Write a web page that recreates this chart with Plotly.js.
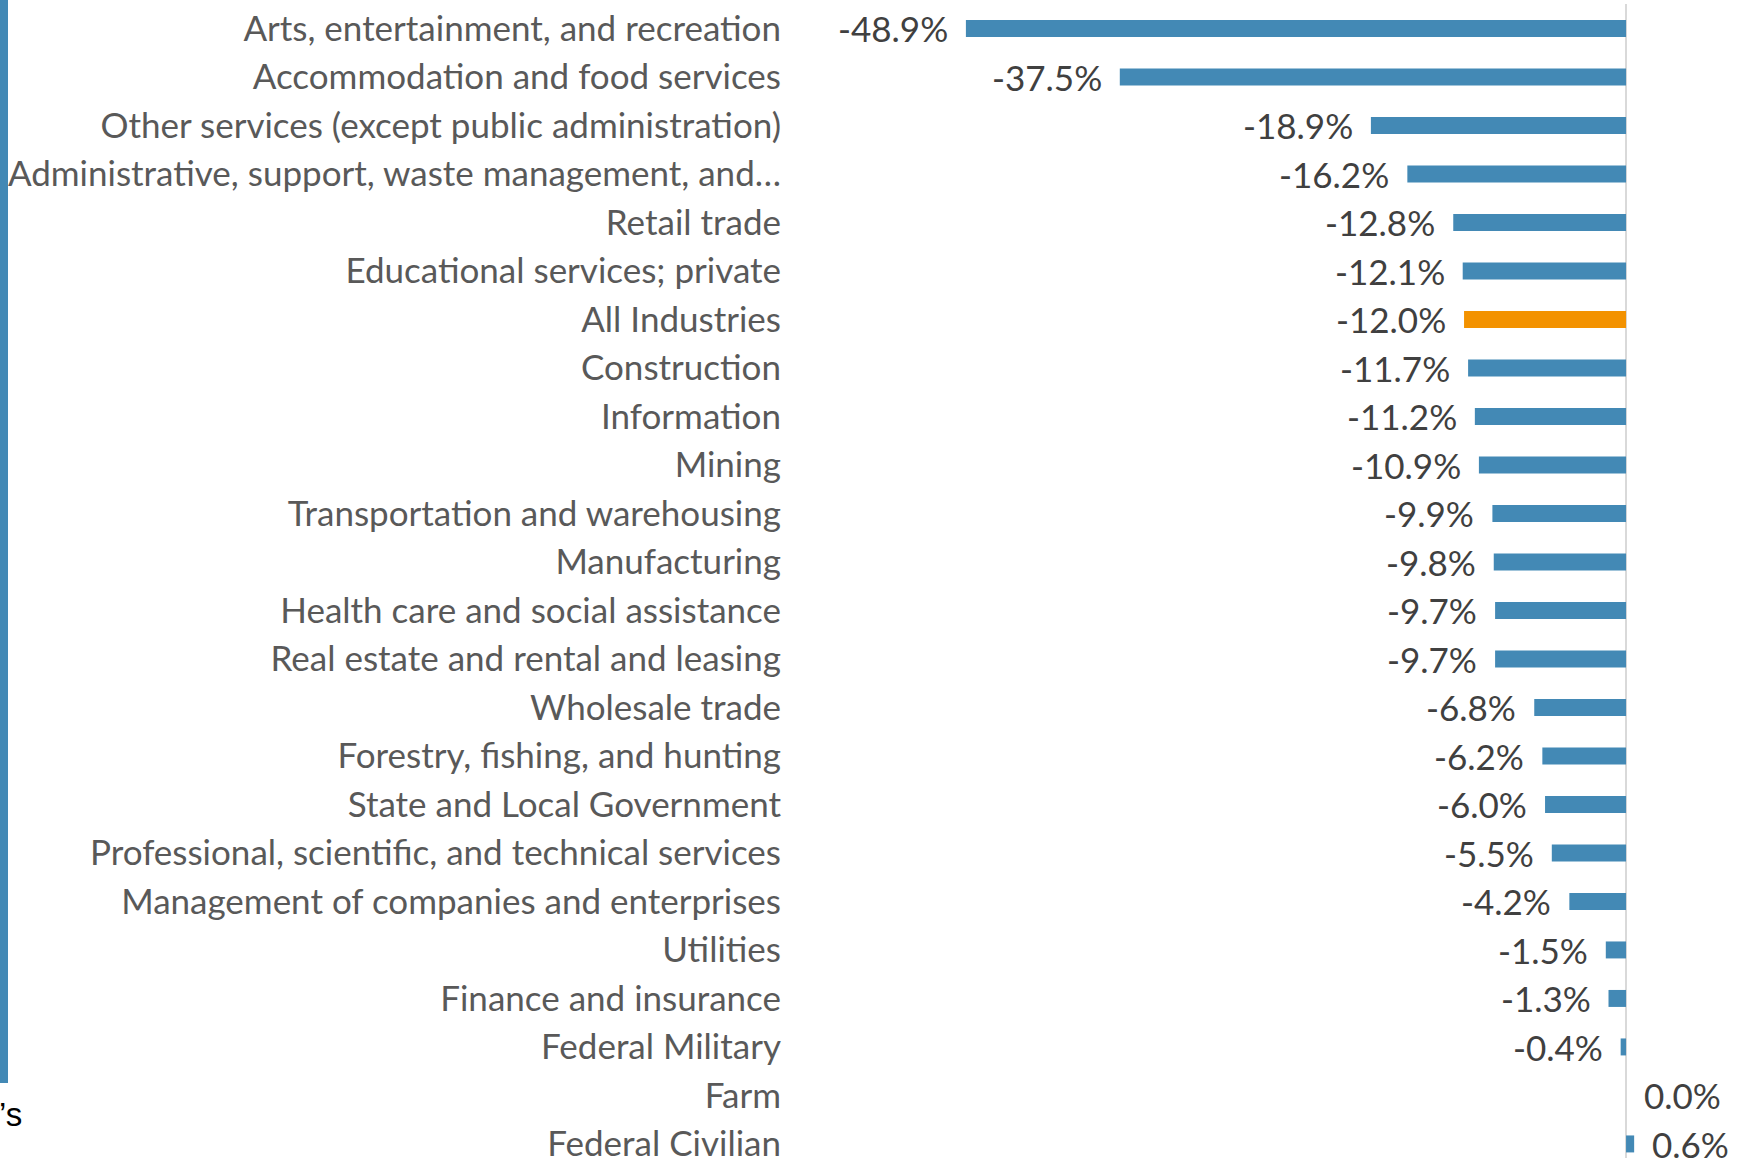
<!DOCTYPE html>
<html>
<head>
<meta charset="utf-8">
<script src="https://cdn.plot.ly/plotly-3.0.1.min.js"></script>
<style>
  html, body { margin: 0; padding: 0; overflow: hidden; background: #fff; }
  #chart { width: 1757px; height: 1158px; }
</style>
</head>
<body>
<div id="chart"></div>
<script>
// ---- Data (top to bottom) ----
const categories = [
  "Arts, entertainment, and recreation",
  "Accommodation and food services",
  "Other services (except public administration)",
  "Administrative, support, waste management, and\u2026",
  "Retail trade",
  "Educational services; private",
  "All Industries",
  "Construction",
  "Information",
  "Mining",
  "Transportation and warehousing",
  "Manufacturing",
  "Health care and social assistance",
  "Real estate and rental and leasing",
  "Wholesale trade",
  "Forestry, fishing, and hunting",
  "State and Local Government",
  "Professional, scientific, and technical services",
  "Management of companies and enterprises",
  "Utilities",
  "Finance and insurance",
  "Federal Military",
  "Farm",
  "Federal Civilian"
];
const changePct = [
  -48.9, -37.5, -18.9, -16.2, -12.8, -12.1, -12.0, -11.7, -11.2, -10.9,
  -9.9, -9.8, -9.7, -9.7, -6.8, -6.2, -6.0, -5.5, -4.2, -1.5, -1.3, -0.4,
  0.0, 0.6
];
const highlightCategory = "All Industries";

// ---- Styles ----
const BLUE = "#4389B5";
const ORANGE = "#F39200";
const FONT = "Lato, 'Open Sans', sans-serif";

const barColors = categories.map(c => c === highlightCategory ? ORANGE : BLUE);

const trace = {
  type: "bar",
  orientation: "h",
  x: changePct,
  y: categories,
  marker: { color: barColors, line: { width: 0 } },
  hoverinfo: "skip"
};

const labelAnnotations = categories.map((c, i) => {
  const v = changePct[i];
  const neg = v < 0;
  return {
    x: v, y: c, xref: "x", yref: "y",
    text: v.toFixed(1) + "%",
    showarrow: false,
    xanchor: neg ? "right" : "left",
    xshift: neg ? -16 : 16,
    yshift: 0,
    font: { family: FONT, size: 35, color: "#404040" }
  };
});

const W = 1757, H = 1158, ML = 790, MT = 4;
const px2paperX = p => (p - ML) / (W - ML);
const px2paperY = p => (H - p) / (H - MT);

const layout = {
  width: W, height: H,
  margin: { l: ML, r: 0, t: MT, b: 0, pad: 0 },
  paper_bgcolor: "#fff",
  plot_bgcolor: "#fff",
  showlegend: false,
  bargap: 0.65,
  xaxis: {
    range: [-61.93, 9.70],
    showgrid: false,
    showticklabels: false,
    ticks: "",
    showline: false,
    zeroline: true,
    zerolinecolor: "#D9D9D9",
    zerolinewidth: 2
  },
  yaxis: {
    type: "category",
    categoryorder: "array",
    categoryarray: categories,
    range: [23.29, -0.505],
    showgrid: false,
    zeroline: false,
    showline: false,
    ticks: "",
    ticklabelstandoff: 8,
    tickfont: { family: FONT, size: 35, color: "#595959" }
  },
  shapes: [
    {
      type: "rect", xref: "paper", yref: "paper",
      x0: px2paperX(0), x1: px2paperX(8),
      y0: px2paperY(1083), y1: px2paperY(0),
      fillcolor: BLUE, line: { width: 0 }, layer: "above"
    }
  ],
  annotations: labelAnnotations.concat([
    {
      xref: "paper", yref: "paper",
      x: px2paperX(-3), y: px2paperY(1114),
      xanchor: "left", yanchor: "middle",
      text: "\u2019s", showarrow: false,
      font: { family: "'Liberation Sans', sans-serif", size: 33, color: "#000" }
    }
  ])
};

Plotly.newPlot("chart", [trace], layout, { displayModeBar: false, staticPlot: true });
</script>
</body>
</html>
